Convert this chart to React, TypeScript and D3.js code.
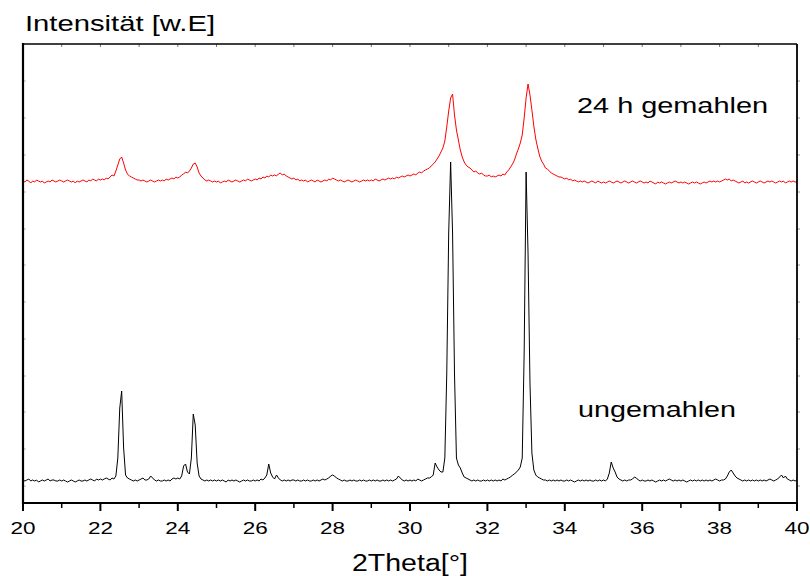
import React from "react";
import * as d3 from "d3";

// 2Theta sampling grid (degrees)
const thetaStart = 20;
const thetaStep = 0.05;

// Intensity (arb. units) of the unmilled sample, one value per 0.05°
const ungemahlen = [
  23,22,23,24,22,23,22,23,21,22,
  23,22,23,24,22,23,23,22,22,23,
  22,23,22,21,22,23,22,21,22,23,
  22,22,23,22,23,24,23,22,24,23,
  24,23,24,25,24,23,25,24,27,45,
  95,112,55,28,25,24,23,22,23,22,
  23,24,25,23,23,24,27,25,23,22,
  23,22,22,23,22,23,22,24,25,24,
  25,24,27,37,39,31,29,45,89,78,
  40,27,24,23,22,23,22,23,22,23,
  22,23,22,23,22,21,23,22,23,22,
  23,22,21,22,23,22,23,22,22,23,
  22,23,22,24,23,25,28,39,30,26,
  24,28,25,23,22,23,22,23,22,23,
  23,22,23,22,22,23,22,23,22,22,
  23,22,23,22,23,24,23,24,25,27,
  28,27,25,24,23,22,23,22,22,23,
  22,23,22,22,23,22,23,22,22,23,
  22,23,22,23,22,22,23,22,23,22,
  23,22,23,24,27,25,23,22,23,22,
  23,22,23,22,24,23,22,23,24,25,
  25,26,28,40,36,33,31,31,45,129,
  270,341,270,129,45,38,35,30,26,25,
  24,23,22,23,22,23,22,22,23,22,
  23,22,23,22,23,22,23,22,24,23,
  24,25,26,28,29,31,33,36,45,150,
  331,250,120,50,33,28,26,25,24,23,
  23,22,23,22,23,22,23,22,23,22,
  22,23,22,23,22,21,22,23,22,23,
  22,23,22,23,22,22,23,22,23,22,
  23,22,24,30,41,35,31,26,24,23,
  22,23,22,23,23,24,26,25,23,22,
  23,22,22,23,22,23,22,21,22,23,
  22,23,22,23,24,23,22,23,22,23,
  22,23,22,21,22,23,22,23,22,23,
  22,23,22,23,22,23,22,23,24,23,
  22,23,23,24,27,31,33,30,27,25,
  24,23,22,23,22,23,22,23,22,23,
  22,23,22,23,22,23,24,23,22,23,
  24,26,28,25,27,24,23,22,23,22,
  23,
];

// Intensity (arb. units, offset) of the sample milled 24 h
const gemahlen24h = [
  322,321,323,322,320,322,321,323,322,321,
  322,320,321,322,321,323,322,321,322,323,
  322,321,322,323,322,321,322,320,322,321,
  322,323,322,321,323,322,324,323,322,324,
  323,324,323,325,324,326,328,327,332,338,
  344,346,340,333,329,327,326,325,324,323,
  323,322,323,322,321,322,323,322,321,322,
  323,322,323,322,324,323,324,325,324,326,
  325,326,328,329,331,330,332,335,339,340,
  336,330,327,325,323,322,323,322,321,322,
  321,322,320,321,322,321,323,322,321,322,
  323,322,321,322,323,322,324,323,322,323,
  324,323,325,324,326,325,327,326,328,327,
  328,327,329,330,328,329,327,326,325,324,
  325,323,324,322,323,322,323,321,322,323,
  322,321,323,322,321,322,323,322,324,323,
  325,324,323,322,323,322,321,322,323,322,
  321,322,323,322,321,322,323,322,323,322,
  323,322,324,323,322,323,324,323,324,325,
  324,325,324,326,325,326,327,326,327,328,
  327,328,329,328,330,331,330,332,333,334,
  335,337,339,341,344,347,351,355,362,376,
  392,405,409,388,373,363,353,346,341,338,
  336,335,333,331,332,330,329,330,328,327,
  327,328,326,327,326,327,328,327,329,328,
  331,333,336,339,343,349,354,360,368,385,
  405,419,408,393,377,364,355,347,342,339,
  335,334,332,330,329,328,327,326,326,325,
  324,325,323,324,322,323,322,321,322,321,
  322,321,320,321,322,321,320,322,321,320,
  321,320,321,322,321,320,321,322,321,320,
  321,322,321,320,321,322,321,320,321,322,
  321,320,321,320,322,321,320,319,321,320,
  321,320,319,320,321,320,321,322,321,320,
  321,320,321,320,319,320,321,320,321,320,
  319,320,321,320,321,322,321,322,321,322,
  321,322,323,324,323,324,322,323,322,321,
  320,321,322,320,321,320,321,322,321,320,
  321,322,321,320,321,322,321,322,321,320,
  321,322,321,322,320,321,322,321,322,321,
  321,
];

const xMajorTicks = [20, 22, 24, 26, 28, 30, 32, 34, 36, 38, 40];
const xMinorTicks = [21, 23, 25, 27, 29, 31, 33, 35, 37, 39];
const yFaintTicks = [17, 54, 91, 127, 164, 201, 238, 274, 311, 348, 385, 422];

const xDomain = [20, 40];
const yDomain = [0, 459];

const W = 810;
const H = 576;
const M = { left: 23, right: 797, top: 44, bottom: 503 };
const FONT = "'Liberation Sans', Arial, Helvetica, sans-serif";

export default function App() {
  const x = d3.scaleLinear().domain(xDomain).range([M.left, M.right]);
  const y = d3.scaleLinear().domain(yDomain).range([M.bottom, M.top]);

  const toPts = (arr: number[]) =>
    arr.map((v, i) => [thetaStart + i * thetaStep, v] as [number, number]);

  const line = d3
    .line<[number, number]>()
    .x((d) => x(d[0]))
    .y((d) => y(d[1]));

  const allInts = d3.range(20, 41);

  return (
    <svg
      width={W}
      height={H}
      style={{ position: "absolute", left: 0, top: 0, background: "#fff" }}
      fontFamily={FONT}
    >
      <rect x={0} y={0} width={W} height={H} fill="#fff" />
      <text x={25} y={31} fontSize={22} textLength={190} lengthAdjust="spacingAndGlyphs" fill="#000">
        Intensität [w.E]
      </text>

      {/* data */}
      <path d={line(toPts(gemahlen24h)) || ""} fill="none" stroke="#ff0000" strokeWidth={1} />
      <path d={line(toPts(ungemahlen)) || ""} fill="none" stroke="#000" strokeWidth={1} />

      {/* faint inner ticks */}
      {allInts.map((t) => (
        <line key={"tt" + t} x1={x(t)} x2={x(t)} y1={M.top} y2={M.top + 3} stroke="#777" strokeWidth={1} />
      ))}
      {yFaintTicks.map((t) => (
        <g key={"yt" + t}>
          <line x1={M.left} x2={M.left + 3} y1={y(t)} y2={y(t)} stroke="#bbb" strokeWidth={1} />
          <line x1={M.right} x2={M.right + 3} y1={y(t)} y2={y(t)} stroke="#999" strokeWidth={1} />
        </g>
      ))}

      {/* frame */}
      <line x1={M.left} x2={M.right} y1={M.top} y2={M.top} stroke="#000" strokeWidth={1.6} />
      <line x1={M.right} x2={M.right} y1={M.top} y2={M.bottom} stroke="#000" strokeWidth={1.8} />
      <line x1={M.left} x2={M.left} y1={M.top - 1} y2={M.bottom + 1} stroke="#000" strokeWidth={2.2} />
      <line x1={M.left - 1} x2={M.right + 1} y1={M.bottom} y2={M.bottom} stroke="#000" strokeWidth={2} />

      {/* x ticks */}
      {xMajorTicks.map((t) => (
        <g key={"mj" + t}>
          <line x1={x(t)} x2={x(t)} y1={M.bottom} y2={M.bottom + 8} stroke="#000" strokeWidth={2} />
          <text
            x={x(t)}
            y={534}
            fontSize={17}
            textAnchor="middle"
            textLength={25}
            lengthAdjust="spacingAndGlyphs"
            fill="#000"
          >
            {t}
          </text>
        </g>
      ))}
      {xMinorTicks.map((t) => (
        <line key={"mn" + t} x1={x(t)} x2={x(t)} y1={M.bottom} y2={M.bottom + 5} stroke="#000" strokeWidth={1.5} />
      ))}

      <text x={410} y={571} fontSize={23} textAnchor="middle" textLength={116} lengthAdjust="spacingAndGlyphs" fill="#000">
        2Theta[°]
      </text>

      <text x={577} y={113} fontSize={22} textLength={191} lengthAdjust="spacingAndGlyphs" fill="#000">
        24 h gemahlen
      </text>
      <text x={578} y={416.5} fontSize={21.5} textLength={158} lengthAdjust="spacingAndGlyphs" fill="#000">
        ungemahlen
      </text>
    </svg>
  );
}
